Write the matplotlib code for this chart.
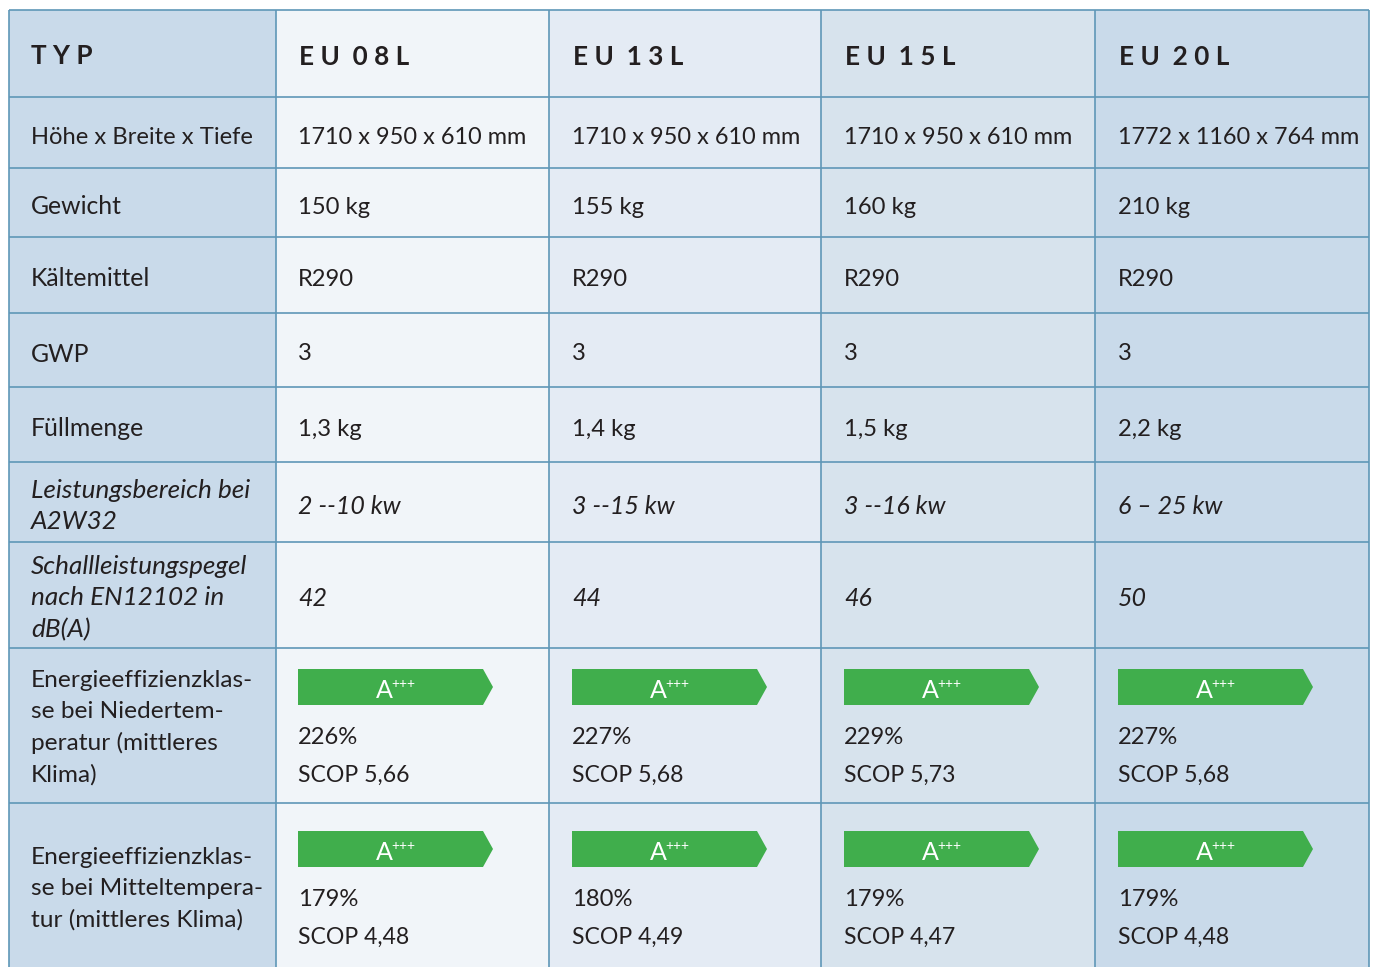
import matplotlib
matplotlib.use("Agg")
import matplotlib.pyplot as plt
from matplotlib.patches import Polygon, Rectangle

plt.rcParams['font.family'] = ['Lato', 'DejaVu Sans']

# table content
row_labels = ["Höhe x Breite x Tiefe", "Gewicht", "Kältemittel", "GWP", "Füllmenge",
              "Leistungsbereich bei\nA2W32", "Schallleistungspegel\nnach EN12102 in\ndB(A)",
              "Energieeffizienzklas-\nse bei Niedertem-\nperatur (mittleres\nKlima)",
              "Energieeffizienzklas-\nse bei Mitteltempera-\ntur (mittleres Klima)"]
models = ["EU 08L", "EU 13L", "EU 15L", "EU 20L"]
dimensions = ["1710 x 950 x 610 mm", "1710 x 950 x 610 mm", "1710 x 950 x 610 mm", "1772 x 1160 x 764 mm"]
weights = ["150 kg", "155 kg", "160 kg", "210 kg"]
refrigerant = ["R290", "R290", "R290", "R290"]
gwp = ["3", "3", "3", "3"]
charge = ["1,3 kg", "1,4 kg", "1,5 kg", "2,2 kg"]
power = ["2 --10 kw", "3 --15 kw", "3 --16 kw", "6 – 25 kw"]
noise = ["42", "44", "46", "50"]
eff_low = ["226%", "227%", "229%", "227%"]
scop_low = ["SCOP 5,66", "SCOP 5,68", "SCOP 5,73", "SCOP 5,68"]
eff_mid = ["179%", "180%", "179%", "179%"]
scop_mid = ["SCOP 4,48", "SCOP 4,49", "SCOP 4,47", "SCOP 4,48"]

# layout in pixels
col_edges = [9, 276, 549, 821, 1095, 1369]
row_edges = [10, 97, 168, 237, 313, 387, 462, 542, 648, 803, 970]
col_colors = ["#c9daea", "#f1f5f9", "#e4ebf4", "#d7e3ed", "#c9daea"]
line_color = "#5f97b7"
text_color = "#231f20"
green = "#40ae4c"
fs = 17.1
fs_italic = 18.8

fig = plt.figure(figsize=(13.75, 9.67), dpi=100)
ax = fig.add_axes([0, 0, 1, 1])
ax.set_xlim(0, 1375)
ax.set_ylim(967, 0)
ax.axis("off")

for i in range(5):
    ax.add_patch(Rectangle((col_edges[i], row_edges[0]), col_edges[i + 1] - col_edges[i],
                           row_edges[-1] - row_edges[0], fc=col_colors[i], ec="none"))
for x in col_edges:
    ax.plot([x, x], [row_edges[0], 967], color=line_color, lw=1.2, solid_capstyle="butt")
for y in row_edges[:-1]:
    ax.plot([col_edges[0], col_edges[-1]], [y, y], color=line_color, lw=1.2, solid_capstyle="butt")


def put(x, y, s, **kw):
    kw.setdefault("fontsize", fs)
    kw.setdefault("color", text_color)
    kw.setdefault("linespacing", 1.43)
    ax.text(x, y, s, va="center", ha="left", **kw)


def badge(x, y):
    pts = [(x, y), (x + 185, y), (x + 195, y + 18), (x + 185, y + 36), (x, y + 36)]
    ax.add_patch(Polygon(pts, fc=green, ec="none"))
    ax.text(x + 78, y + 21, "A", color="white", fontsize=18, ha="left", va="center")
    ax.text(x + 93, y + 15, "+++", color="white", fontsize=10, ha="left", va="center")


# header row
put(31, 56, "T Y P", fontweight="bold", fontsize=18.8)
text_x = [298, 572, 844, 1118]
for x, m in zip(text_x, models):
    put(x + 1, 57, " ".join(m.split(" ")[0]) + "  " + " ".join(m.split(" ")[1]),
        fontweight="bold", fontsize=18.8)

# first column
label_y = [137, 207, 279, 354, 429, 506, 598, 728, 889]
for j, lab in enumerate(row_labels):
    if j in (5, 6):
        put(31, label_y[j], lab, style="italic", fontsize=fs_italic)
    elif j >= 7:
        put(31, label_y[j], lab, fontsize=17.6, linespacing=1.58)
    elif j == 0:
        put(31, label_y[j], lab)
    else:
        put(31, label_y[j], lab, fontsize=17.8)

# value rows
value_rows = [dimensions, weights, refrigerant, gwp, charge, power, noise]
for j, vals in enumerate(value_rows):
    for x, v in zip(text_x, vals):
        if j in (5, 6):
            put(x, label_y[j], v, style="italic", fontsize=18)
        elif j == 0:
            put(x, label_y[j], v, fontsize=16.9)
        else:
            put(x, label_y[j], v)

# efficiency rows
for k, x in enumerate(text_x):
    badge(x, 669)
    put(x, 737, eff_low[k])
    put(x, 775, scop_low[k], fontsize=16.6)
    badge(x, 831)
    put(x, 899, eff_mid[k])
    put(x, 937, scop_mid[k], fontsize=16.6)

fig.savefig("out.png", dpi=100)
